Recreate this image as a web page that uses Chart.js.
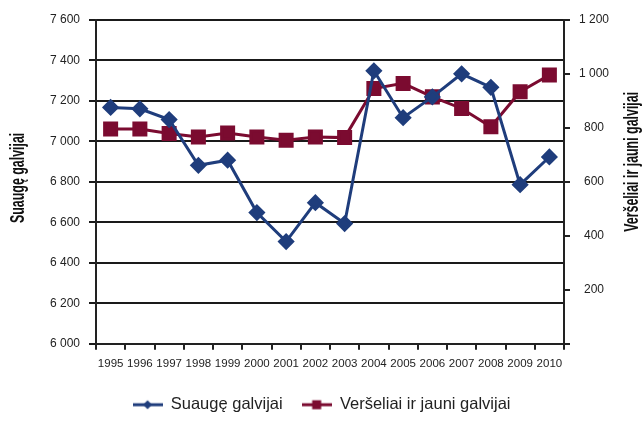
<!DOCTYPE html>
<html>
<head>
<meta charset="utf-8">
<script src="https://cdn.jsdelivr.net/npm/chart.js@4/dist/chart.umd.min.js"></script>
<style>
  html, body { margin: 0; padding: 0; background: #fff; }
  #wrap { width: 643px; height: 423px; }
</style>
</head>
<body>
<div id="wrap"><canvas id="myChart" width="643" height="423"></canvas></div>
<script>
var years = ['1995','1996','1997','1998','1999','2000','2001','2002','2003','2004','2005','2006','2007','2008','2009','2010'];
var suaugeGalvijai = [7168, 7161, 7108, 6882, 6907, 6648, 6505, 6697, 6594, 7349, 7117, 7220, 7334, 7267, 6786, 6923];
var verseliai = [796, 796, 779, 766, 781, 766, 754, 766, 764, 946, 965, 915, 872, 804, 934, 996];
var leftTicks = [6000, 6200, 6400, 6600, 6800, 7000, 7200, 7400, 7600];
var rightTicks = [0, 200, 400, 600, 800, 1000, 1200];
var leftTitle = 'Suaugę galvijai';
var rightTitle = 'Veršeliai ir jauni galvijai';

var blue = '#1f3d7c';
var red = '#7b0b30';
var font = '"Liberation Sans", Arial, sans-serif';

function fmt(v) {
    return String(v).replace(/\B(?=(\d{3})+(?!\d))/g, ' ');
}

// legend icon: short line with the marker on it
function legendIcon(color, style) {
    var c = document.createElement('canvas');
    c.width = 30; c.height = 12;
    var g = c.getContext('2d');
    g.strokeStyle = color;
    g.lineWidth = 3;
    g.beginPath(); g.moveTo(0, 6); g.lineTo(30, 6); g.stroke();
    g.fillStyle = color;
    if (style === 'rectRot') {
        g.beginPath(); g.moveTo(15, 1.5); g.lineTo(19.5, 6); g.lineTo(15, 10.5); g.lineTo(10.5, 6); g.closePath(); g.fill();
    } else {
        g.fillRect(10.5, 1.5, 9, 9);
    }
    return c;
}

// both axis titles read bottom-to-top, in a narrow (condensed) look
var axisTitlePlugin = {
    id: 'axisTitles',
    afterDraw: function (chart) {
        var c = chart.ctx;
        var area = chart.chartArea;
        var mid = (area.top + area.bottom) / 2;
        [[leftTitle, 18, mid - 4], [rightTitle, 632, mid - 20]].forEach(function (t) {
            c.save();
            c.translate(t[1], t[2]);
            c.rotate(-Math.PI / 2);
            c.scale(0.62, 1);
            c.font = 'bold 20px ' + font;
            c.fillStyle = '#111';
            c.textAlign = 'center';
            c.textBaseline = 'middle';
            c.fillText(t[0], 0, 0);
            c.restore();
        });
    }
};

var ctx = document.getElementById('myChart').getContext('2d');
var myChart = new Chart(ctx, {
    type: 'line',
    data: {
        labels: years,
        datasets: [{
            label: 'Suaugę galvijai',
            data: suaugeGalvijai,
            yAxisID: 'y',
            borderColor: blue,
            backgroundColor: blue,
            borderWidth: 3,
            pointStyle: 'rectRot',
            pointRadius: 6.5,
            pointHoverRadius: 6.5,
            tension: 0
        }, {
            label: 'Veršeliai ir jauni galvijai',
            data: verseliai,
            yAxisID: 'y1',
            borderColor: red,
            backgroundColor: red,
            borderWidth: 3,
            pointStyle: 'rect',
            pointRadius: 8.5,
            pointHoverRadius: 8.5,
            tension: 0
        }]
    },
    options: {
        responsive: false,
        animation: false,
        devicePixelRatio: 1,
        layout: { padding: { top: 20, left: 0, right: 0, bottom: 0 } },
        plugins: {
            tooltip: { enabled: false },
            legend: {
                position: 'bottom',
                labels: {
                    usePointStyle: true,
                    pointStyleWidth: 30,
                    padding: 19,
                    color: '#222',
                    font: { family: font, size: 16.5 },
                    generateLabels: function (chart) {
                        var items = Chart.defaults.plugins.legend.labels.generateLabels(chart);
                        items.forEach(function (it, i) {
                            var ds = chart.data.datasets[i];
                            it.pointStyle = legendIcon(ds.borderColor, ds.pointStyle);
                        });
                        return items;
                    }
                }
            }
        },
        scales: {
            x: {
                offset: true,
                grid: { offset: true, drawOnChartArea: false, drawTicks: true, tickLength: 6, color: '#222', lineWidth: 2 },
                border: { color: '#222', width: 2 },
                ticks: { color: '#222', font: { family: font, size: 11.5 }, maxRotation: 0, autoSkip: false, padding: 7 }
            },
            y: {
                position: 'left',
                min: 6000,
                max: 7600,
                afterBuildTicks: function (axis) { axis.ticks = leftTicks.map(function (v) { return { value: v }; }); },
                afterFit: function (axis) { axis.width = 96; },
                grid: { color: '#1a1a1a', lineWidth: 2, tickLength: 7 },
                border: { color: '#222', width: 2 },
                ticks: { color: '#222', font: { family: font, size: 12 }, padding: 9, callback: function (v) { return fmt(v); } }
            },
            y1: {
                position: 'right',
                min: 0,
                max: 1200,
                afterBuildTicks: function (axis) { axis.ticks = rightTicks.map(function (v) { return { value: v }; }); },
                afterFit: function (axis) { axis.width = 79; },
                grid: { drawOnChartArea: false, color: '#222', lineWidth: 2, tickLength: 6 },
                border: { color: '#222', width: 2 },
                ticks: { color: '#222', font: { family: font, size: 12 }, padding: 9, crossAlign: 'center', callback: function (v) { return v === 0 ? '' : fmt(v); } }
            }
        }
    },
    plugins: [axisTitlePlugin]
});
</script>
</body>
</html>
